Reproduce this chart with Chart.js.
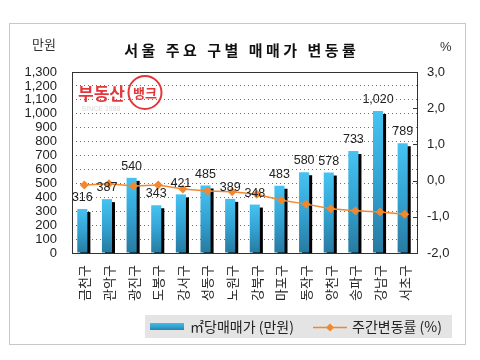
<!DOCTYPE html>
<html><head><meta charset="utf-8">
<script src="https://cdn.jsdelivr.net/npm/chart.js@4"></script>
<style>html,body{margin:0;padding:0;background:#fff}#c{display:block}</style>
</head><body>
<canvas id="c" width="480" height="360"></canvas>
<script>
const categories = ['금천구','관악구','광진구','도봉구','강서구','성동구','노원구','강북구','마포구','동작구','양천구','송파구','강남구','서초구'];
const pricePerM2 = [316,387,540,343,421,485,389,348,483,580,578,733,1020,789];
const weeklyChange = [-0.12,-0.09,-0.15,-0.12,-0.23,-0.29,-0.31,-0.38,-0.54,-0.65,-0.78,-0.83,-0.87,-0.93];
const titleText = '서울 주요 구별 매매가 변동률';
const leftUnit = '만원';
const rightUnit = '%';
const seriesNames = ['㎡당매매가 (만원)', '주간변동률 (%)'];

const NUMF = "'Liberation Sans','Noto Sans CJK KR',sans-serif";
const KF = "'Noto Sans CJK KR',sans-serif";
const ORANGE = '#f2872e';
const BAR_SHIFT = -2;

function barGradient(ctx, top, bottom) {
  const g = ctx.createLinearGradient(0, top, 0, bottom);
  g.addColorStop(0, '#46c3f2');
  g.addColorStop(0.5, '#33a3d3');
  g.addColorStop(1, '#277aa0');
  return g;
}

function drawSpaced(ctx, text, cx, y, spacing) {
  const chars = [...text];
  let total = 0;
  const ws = chars.map(c => ctx.measureText(c).width);
  ws.forEach(w => total += w);
  total += spacing * (chars.length - 1);
  let x = cx - total / 2;
  ctx.textAlign = 'left';
  chars.forEach((c, i) => { ctx.fillText(c, x, y); x += ws[i] + spacing; });
}

const decor = {
  id: 'decor',
  beforeDraw(chart) {
    const ctx = chart.ctx;
    ctx.save();
    ctx.fillStyle = '#fff';
    ctx.fillRect(0, 0, chart.width, chart.height);
    ctx.strokeStyle = '#c8c8c8';
    ctx.lineWidth = 1;
    ctx.strokeRect(9.5, 23.5, 456, 321);
    // logo
    ctx.fillStyle = '#e2373a';
    ctx.font = "bold 17px " + KF;
    ctx.textBaseline = 'middle';
    ctx.textAlign = 'left';
    ctx.fillText('부동산', 78, 94);
    ctx.beginPath();
    ctx.arc(145, 92.5, 16.5, 0, Math.PI * 2);
    ctx.lineWidth = 2;
    ctx.strokeStyle = '#e2373a';
    ctx.stroke();
    ctx.font = "bold 13px " + KF;
    ctx.textAlign = 'center';
    ctx.fillText('뱅크', 145, 93);
    ctx.fillStyle = '#d8d8d8';
    ctx.font = "7px " + NUMF;
    ctx.fillText('SINCE 1988', 101, 109);
    ctx.restore();
  },
  beforeDatasetDraw(chart, args) {
    if (args.index === 0) {
      const ctx = chart.ctx;
      ctx.save();
      ctx.translate(BAR_SHIFT, 0);
      ctx.shadowColor = '#000';
      ctx.shadowOffsetX = 3;
      ctx.shadowOffsetY = 3;
      ctx.shadowBlur = 0;
    }
  },
  afterDatasetDraw(chart, args) {
    if (args.index === 0) chart.ctx.restore();
  },
  afterDatasetsDraw(chart) {
    const ctx = chart.ctx;
    const meta = chart.getDatasetMeta(0);
    ctx.save();
    ctx.fillStyle = '#222';
    ctx.font = "12.5px " + NUMF;
    ctx.textAlign = 'center';
    ctx.textBaseline = 'bottom';
    meta.data.forEach((bar, i) => {
      ctx.fillText(pricePerM2[i].toLocaleString('en-US'), bar.x + BAR_SHIFT, bar.y - 5);
    });
    ctx.restore();
  },
  afterDraw(chart) {
    const ctx = chart.ctx;
    const a = chart.chartArea;
    ctx.save();
    ctx.strokeStyle = '#333';
    ctx.lineWidth = 1;
    ctx.strokeRect(Math.round(a.left) + 0.5, Math.round(a.top) + 0.5, Math.round(a.right - a.left), Math.round(a.bottom - a.top));
    // inner ticks on right axis
    const y1 = chart.scales.y1;
    y1.ticks.forEach(t => {
      const py = Math.round(y1.getPixelForValue(t.value)) + 0.5;
      ctx.beginPath();
      ctx.moveTo(a.right - 4, py);
      ctx.lineTo(a.right, py);
      ctx.stroke();
    });
    // title
    ctx.fillStyle = '#111';
    ctx.textBaseline = 'middle';
    ctx.font = "bold 15px " + KF;
    drawSpaced(ctx, titleText, 240, 50, 3.5);
    ctx.fillStyle = '#333';
    ctx.font = "13px " + KF;
    ctx.textAlign = 'left';
    ctx.fillText(leftUnit, 32, 44);
    ctx.font = "13px " + NUMF;
    ctx.fillText(rightUnit, 440, 47);
    // legend
    ctx.fillStyle = '#e4e4e4';
    ctx.fillRect(145, 315, 307, 23);
    ctx.fillStyle = barGradient(ctx, 322, 331);
    ctx.fillRect(150, 323, 34, 7);
    ctx.fillStyle = '#222';
    ctx.font = "14px " + KF;
    ctx.textAlign = 'left';
    ctx.fillText(seriesNames[0], 190, 327);
    ctx.strokeStyle = ORANGE;
    ctx.lineWidth = 1.5;
    ctx.beginPath();
    ctx.moveTo(313, 327.5);
    ctx.lineTo(347, 327.5);
    ctx.stroke();
    ctx.fillStyle = ORANGE;
    ctx.beginPath();
    ctx.moveTo(330, 323.5); ctx.lineTo(334, 327.5); ctx.lineTo(330, 331.5); ctx.lineTo(326, 327.5);
    ctx.closePath(); ctx.fill();
    ctx.fillStyle = '#222';
    ctx.fillText(seriesNames[1], 352, 327);
    ctx.restore();
  }
};

new Chart(document.getElementById('c'), {
  data: {
    labels: categories,
    datasets: [
      {
        type: 'bar',
        label: seriesNames[0],
        data: pricePerM2,
        yAxisID: 'y',
        order: 2,
        barPercentage: 0.41,
        categoryPercentage: 1,
        borderWidth: 0,
        backgroundColor(ctx) {
          const chart = ctx.chart;
          const ys = chart.scales.y;
          if (!ys || !chart.chartArea || ctx.raw === undefined) return '#3aaee0';
          return barGradient(chart.ctx, ys.getPixelForValue(ctx.raw), ys.getPixelForValue(0));
        }
      },
      {
        type: 'line',
        label: seriesNames[1],
        data: weeklyChange,
        yAxisID: 'y1',
        order: 1,
        borderColor: ORANGE,
        borderWidth: 1.5,
        backgroundColor: ORANGE,
        pointStyle: 'rectRot',
        pointRadius: 4.5,
        pointBorderWidth: 0,
        pointBackgroundColor: ORANGE,
        tension: 0
      }
    ]
  },
  options: {
    responsive: false,
    animation: false,
    devicePixelRatio: 1,
    layout: { padding: { left: 0, right: 0, top: 72, bottom: 0 } },
    plugins: { legend: { display: false }, title: { display: false }, tooltip: { enabled: false } },
    scales: {
      x: {
        grid: { display: false, drawTicks: false },
        border: { display: false },
        ticks: {
          autoSkip: false, minRotation: 90, maxRotation: 90, padding: 12,
          color: '#222', font: { family: KF, size: 13 }
        },
        afterFit(s) { s.height = 107; }
      },
      y: {
        position: 'left', min: 0, max: 1300,
        grid: { color: '#6e6e6e', drawTicks: false, lineWidth: 1 },
        border: { display: false, dash: [1, 3] },
        ticks: {
          autoSkip: false, stepSize: 100, padding: 15, color: '#222', font: { family: NUMF, size: 13 },
          callback: v => v.toLocaleString('en-US')
        },
        afterFit(s) { s.width = 72; }
      },
      y1: {
        position: 'right', min: -2, max: 3,
        grid: { drawOnChartArea: false, drawTicks: false },
        border: { display: false },
        ticks: {
          autoSkip: false, stepSize: 1, padding: 10, color: '#222', font: { family: NUMF, size: 13 },
          callback: v => v.toFixed(1).replace('.', ',')
        },
        afterFit(s) { s.width = 63; }
      }
    }
  },
  plugins: [decor]
});
</script>
</body></html>
